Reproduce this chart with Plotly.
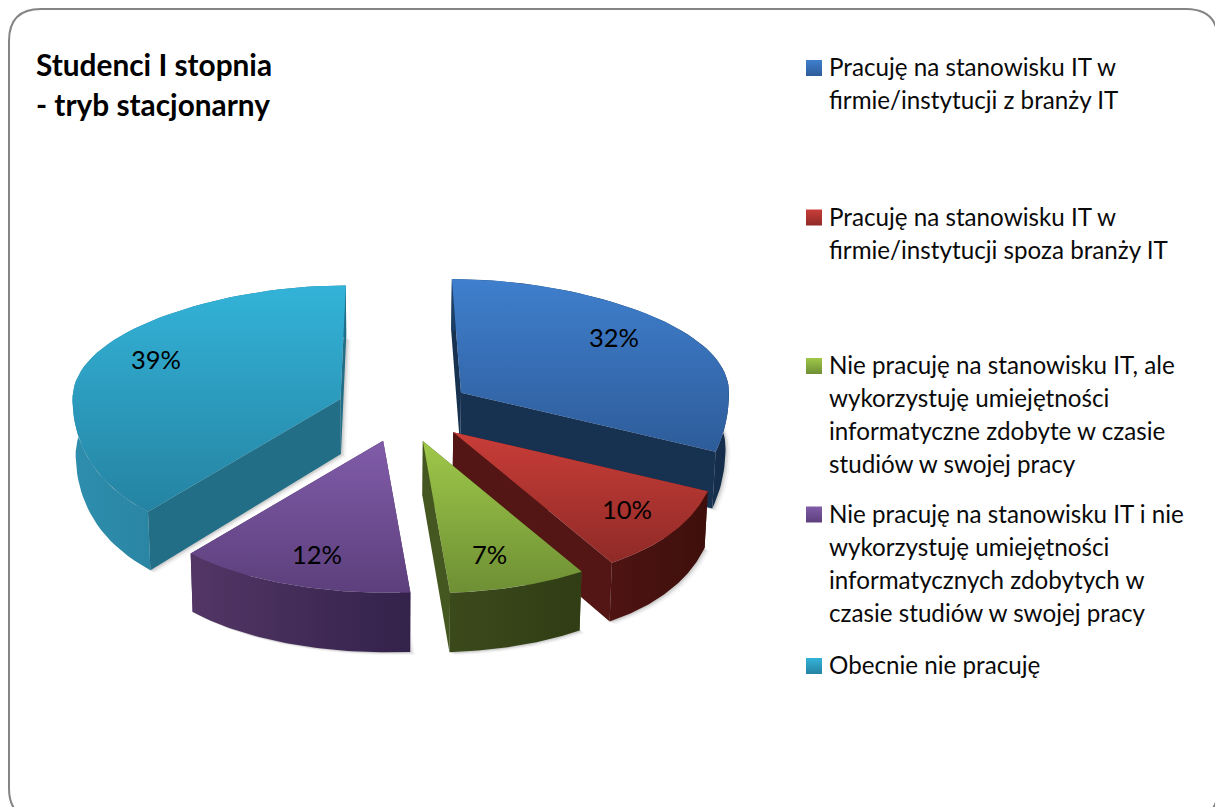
import math
import plotly.graph_objects as go

# ---- data ----
categories = [
    "Pracuję na stanowisku IT w firmie/instytucji z branży IT",
    "Pracuję na stanowisku IT w firmie/instytucji spoza branży IT",
    "Nie pracuję na stanowisku IT, ale wykorzystuję umiejętności informatyczne zdobyte w czasie studiów w swojej pracy",
    "Nie pracuję na stanowisku IT i nie wykorzystuję umiejętności informatycznych zdobytych w czasie studiów w swojej pracy",
    "Obecnie nie pracuję",
]
values = [32, 10, 7, 12, 39]
legend_lines = [
    ["Pracuję na stanowisku IT w", "firmie/instytucji z branży IT"],
    ["Pracuję na stanowisku IT w", "firmie/instytucji spoza branży IT"],
    ["Nie pracuję na stanowisku IT, ale", "wykorzystuję umiejętności", "informatyczne zdobyte w czasie", "studiów w swojej pracy"],
    ["Nie pracuję na stanowisku IT i nie", "wykorzystuję umiejętności", "informatycznych zdobytych w", "czasie studiów w swojej pracy"],
    ["Obecnie nie pracuję"],
]
title_lines = ["Studenci I stopnia", "- tryb stacjonarny"]

# ---- styles: top start, top end, cut face, arc left, arc right ----
palette = [
    ("#3F7FCD", "#2E5C9A", "#173151", "#1C3F66", "#152D4A"),
    ("#C93D38", "#8F2A27", "#531614", "#4E1412", "#3E0F0C"),
    ("#9FC84A", "#6E8F34", "#445720", "#3B4A1B", "#303D15"),
    ("#815CA9", "#5C3F7C", "#4A3060", "#533666", "#33224A"),
    ("#33B3D8", "#2583A2", "#226E86", "#2E8EAD", "#206F8B"),
]
draw_order = [4, 0, 1, 3, 2]
LABEL_POS = [(614, 338), (627, 510), (489, 555), (317, 555), (156, 360)]
LEGEND_Y = [68, 217.5, 366, 514.5, 666]
LINE_H = 33
LEGEND_FONT = 24.2
W, H = 1215, 807
CX, CY, RX, RY = 404, 410, 268, 130
GAIN_FRONT, GAIN_BACK, PERSP_Y, X0, SKEW, EXPLODE, DEPTH = 0.25, 0.12, 0.145, 385, 25, 0.25, 55

# ---- projection of the exploded pie ----
def project(ax, ay, u, v, drop=False):
    sy = 1 / (1 - PERSP_Y * v)
    if v < 0:
        sx = 1 - GAIN_BACK * v ** 2
        shift = (ax - X0) * (sx - 1)
    else:
        sx = 1 + GAIN_FRONT * v ** 2
        shift = SKEW * (sx - 1)
    x = ax + u * RX * sx + shift
    y = ay + v * RY * sy
    if drop:
        x = X0 + (x - X0) * 0.99
        y = y + DEPTH * sy ** 0.5
    return x, y

def poly(points, color=None, grad=None, name=None):
    xs = [p[0] for p in points] + [points[0][0]]
    ys = [p[1] for p in points] + [points[0][1]]
    kw = dict(x=xs, y=ys, mode="lines", line=dict(width=0), fill="toself",
              hoverinfo="skip", showlegend=False)
    if name:
        kw["name"] = name
    if grad:
        kw["fillgradient"] = grad
    else:
        kw["fillcolor"] = color
    return go.Scatter(**kw)

total = sum(values)
starts, acc = [], 0
for val in values:
    starts.append(acc)
    acc += val

fig = go.Figure()
for i in draw_order:
    a0 = starts[i] / total * 2 * math.pi
    a1 = (starts[i] + values[i]) / total * 2 * math.pi
    mid = (a0 + a1) / 2
    ax = CX + EXPLODE * 270 * math.sin(mid)
    ay = CY - EXPLODE * 129.5 * math.cos(mid)
    n = 60
    ang = [a0 + (a1 - a0) * k / n for k in range(n + 1)]
    top_arc = [project(ax, ay, math.sin(t), -math.cos(t)) for t in ang]
    bot_arc = [project(ax, ay, math.sin(t), -math.cos(t), True) for t in ang]
    apex_t = project(ax, ay, 0, 0)
    apex_b = project(ax, ay, 0, 0, True)
    c_cut, c_l, c_r = palette[i][2], palette[i][3], palette[i][4]

    # soft drop shadow
    for off, alpha in ((5, 0.04), (3, 0.07), (1.5, 0.09)):
        pts = [(p[0] + off, p[1] + off * 0.6) for p in [apex_b] + bot_arc]
        fig.add_trace(poly(pts, color=f"rgba(0,0,0,{alpha})"))
    # radial cut faces
    fig.add_trace(poly([apex_t, top_arc[0], bot_arc[0], apex_b], color=c_cut))
    fig.add_trace(poly([apex_t, top_arc[-1], bot_arc[-1], apex_b], color=c_cut))
    # outer curved wall
    xs_all = [p[0] for p in top_arc + bot_arc]
    fig.add_trace(poly(top_arc + bot_arc[::-1], grad=dict(
        type="horizontal", start=min(xs_all), stop=max(xs_all),
        colorscale=[[0, c_l], [1, c_r]])))
    # top face
    pts = [apex_t] + top_arc
    ys_all = [p[1] for p in pts]
    fig.add_trace(poly(pts, name=categories[i], grad=dict(
        type="vertical", start=min(ys_all), stop=max(ys_all),
        colorscale=[[0, palette[i][0]], [1, palette[i][1]]])))

# legend swatches
for i, cy in enumerate(LEGEND_Y):
    fig.add_trace(go.Scatter(
        x=[814], y=[cy], mode="markers", hoverinfo="skip", showlegend=False,
        marker=dict(symbol="square", size=16, color=palette[i][0], line=dict(width=0),
                    gradient=dict(type="vertical", color=palette[i][1]))))

FONT = "Lato, Carlito, Calibri, sans-serif"
ann = []
for i, lines in enumerate(legend_lines):
    for j, t in enumerate(lines):
        ann.append(dict(x=826.5, y=LEGEND_Y[i] + j * LINE_H - 1.5, text=t, xanchor="left", yanchor="middle",
                        showarrow=False, font=dict(family=FONT, size=LEGEND_FONT, color="#0A0A0A")))
for j, t in enumerate(title_lines):
    ann.append(dict(x=34, y=64 + j * 40, text=f"<b>{t}</b>", xanchor="left", yanchor="middle",
                    showarrow=False, font=dict(family=FONT, size=29.8, color="#000000")))
for i, (px, py) in enumerate(LABEL_POS):
    ann.append(dict(x=px, y=py - 1, text=f"{values[i]}%", xanchor="center", yanchor="middle",
                    showarrow=False, font=dict(family=FONT, size=25.5, color="#000000")))

# rounded frame running off the right and bottom edges
L, T, R, B, r = 9, 9, 1218, 820, 32
frame = (f"M {L+r} {T} L {R-r} {T} Q {R} {T} {R} {T+r} L {R} {B-r} Q {R} {B} {R-r} {B} "
         f"L {L+r} {B} Q {L} {B} {L} {B-r} L {L} {T+r} Q {L} {T} {L+r} {T} Z")

fig.update_layout(
    width=W, height=H, margin=dict(l=0, r=0, t=0, b=0),
    paper_bgcolor="white", plot_bgcolor="white", showlegend=False,
    xaxis=dict(range=[0, W], visible=False, fixedrange=True),
    yaxis=dict(range=[H, 0], visible=False, fixedrange=True),
    annotations=ann,
    shapes=[dict(type="path", path=frame, line=dict(color="#858585", width=2), layer="below")],
)
fig.write_html("out.html", config={"displayModeBar": False},
               post_script="document.body.style.margin='0';document.documentElement.style.overflow='hidden';")
